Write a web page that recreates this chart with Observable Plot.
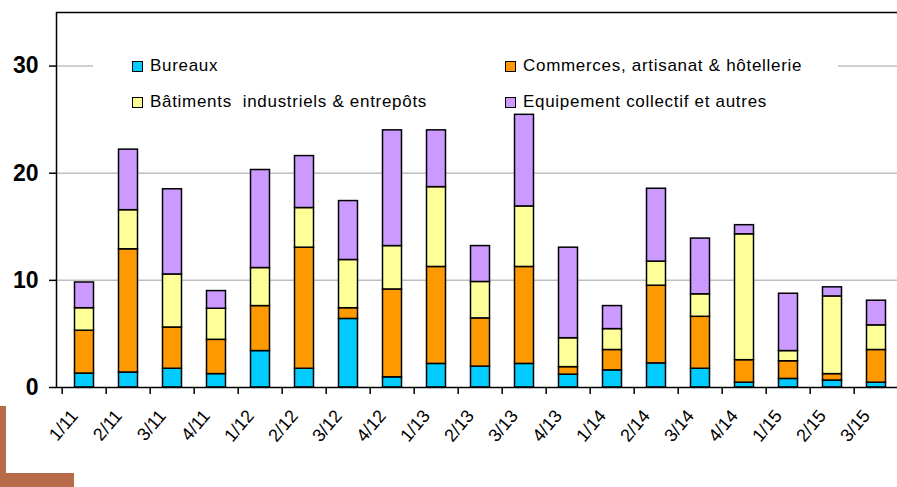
<!DOCTYPE html>
<html>
<head>
<meta charset="utf-8">
<script src="https://cdn.jsdelivr.net/npm/d3@7"></script>
<script src="https://cdn.jsdelivr.net/npm/@observablehq/plot@0.6"></script>
<style>
  html, body { margin: 0; padding: 0; background: white; overflow: hidden; }
  #wrap { position: relative; width: 897px; height: 487px; font-family: "Liberation Sans", Arial, sans-serif; }
  #legend { position: absolute; left: 93px; top: 48px; width: 745px; height: 64px; background: white; }
  .item { position: absolute; display: flex; align-items: center; font-size: 17px; letter-spacing: 0.7px; white-space: pre; color: black; height: 20px; }
  .sw { width: 9px; height: 9px; border: 1.5px solid black; margin-right: 7px; }
  .deco { position: absolute; background: #b86b48; }
</style>
</head>
<body>
<div id="wrap">
  <div id="chart"></div>
  <div id="legend"></div>
  <div class="deco" style="left:0;top:406px;width:6px;height:81px;"></div>
  <div class="deco" style="left:0;top:473px;width:74px;height:14px;"></div>
</div>
<script>
const categories = ["1/11","2/11","3/11","4/11","1/12","2/12","3/12","4/12","1/13","2/13","3/13","4/13","1/14","2/14","3/14","4/14","1/15","2/15","3/15"];
const seriesNames = ["Bureaux", "Commerces, artisanat & hôtellerie", "Bâtiments  industriels & entrepôts", "Equipement collectif et autres"];
const seriesColors = ["#00ccff", "#ff9900", "#ffff99", "#cc99ff"];
const bureaux     = [1.3, 1.4, 1.75, 1.25, 3.4, 1.75, 6.4, 0.95, 2.2, 1.95, 2.2, 1.2, 1.6, 2.25, 1.75, 0.45, 0.8, 0.65, 0.45];
const commerces   = [4.0, 11.5, 3.85, 3.2, 4.2, 11.3, 1.0, 8.2, 9.05, 4.5, 9.05, 0.7, 1.9, 7.25, 4.85, 2.1, 1.65, 0.6, 3.05];
const industriels = [2.1, 3.65, 4.95, 2.9, 3.55, 3.7, 4.5, 4.05, 7.45, 3.4, 5.65, 2.7, 1.95, 2.25, 2.1, 11.75, 0.95, 7.25, 2.3];
const equipement  = [2.4, 5.65, 7.95, 1.65, 9.15, 4.85, 5.5, 10.8, 5.3, 3.35, 8.55, 8.45, 2.15, 6.8, 5.2, 0.85, 5.35, 0.85, 2.3];
const yTicks = [0, 10, 20, 30];
const gridTicks = [10, 20, 30];

const seriesValues = [bureaux, commerces, industriels, equipement];
const data = [];
categories.forEach((c, i) => {
  seriesValues.forEach((vals, s) => data.push({cat: c, series: seriesNames[s], value: vals[i]}));
});

const W = 897, H = 487, ML = 56, MR = -7, MT = 12, MB = 100;
const step = (W - ML - MR) / categories.length;

const chart = Plot.plot({
  width: W, height: H,
  marginLeft: ML, marginRight: MR, marginTop: MT, marginBottom: MB,
  style: {fontFamily: "'Liberation Sans', Arial, sans-serif", color: "black", background: "white", overflow: "hidden"},
  x: {domain: categories, padding: 0, axis: null, label: null},
  y: {domain: [0, 35], axis: null, label: null},
  color: {domain: seriesNames, range: seriesColors},
  marks: [
    Plot.ruleY(gridTicks, {stroke: "#c0c0c0", strokeWidth: 1.5}),
    Plot.barY(data, {x: "cat", y: "value", fill: "series", stroke: "black", strokeWidth: 1.5, insetLeft: 12.5, insetRight: 12.5}),
    Plot.frame({stroke: "black", strokeWidth: 1.5}),
    Plot.axisY({ticks: yTicks, tickSize: 7, tickPadding: 11, fontSize: 23, fontWeight: "bold", strokeWidth: 1.5, tickFormat: d => String(d), label: null}),
    Plot.axisX({tickSize: 7, tickFormat: () => "", dx: -step / 2, strokeWidth: 1.5, label: null}),
    Plot.axisX({tickSize: 0, tickRotate: -50, fontSize: 18, tickPadding: 16, dx: -10, dy: 9, label: null})
  ]
});
document.getElementById("chart").appendChild(chart);

const legend = document.getElementById("legend");
const pos = [[39, 8], [412, 8], [39, 44], [412, 44]];
seriesNames.forEach((name, k) => {
  const it = document.createElement("div");
  it.className = "item";
  it.style.left = pos[k][0] + "px";
  it.style.top = pos[k][1] + "px";
  const sw = document.createElement("div");
  sw.className = "sw";
  sw.style.background = seriesColors[k];
  const t = document.createElement("span");
  t.textContent = name;
  it.appendChild(sw);
  it.appendChild(t);
  legend.appendChild(it);
});
</script>
</body>
</html>
